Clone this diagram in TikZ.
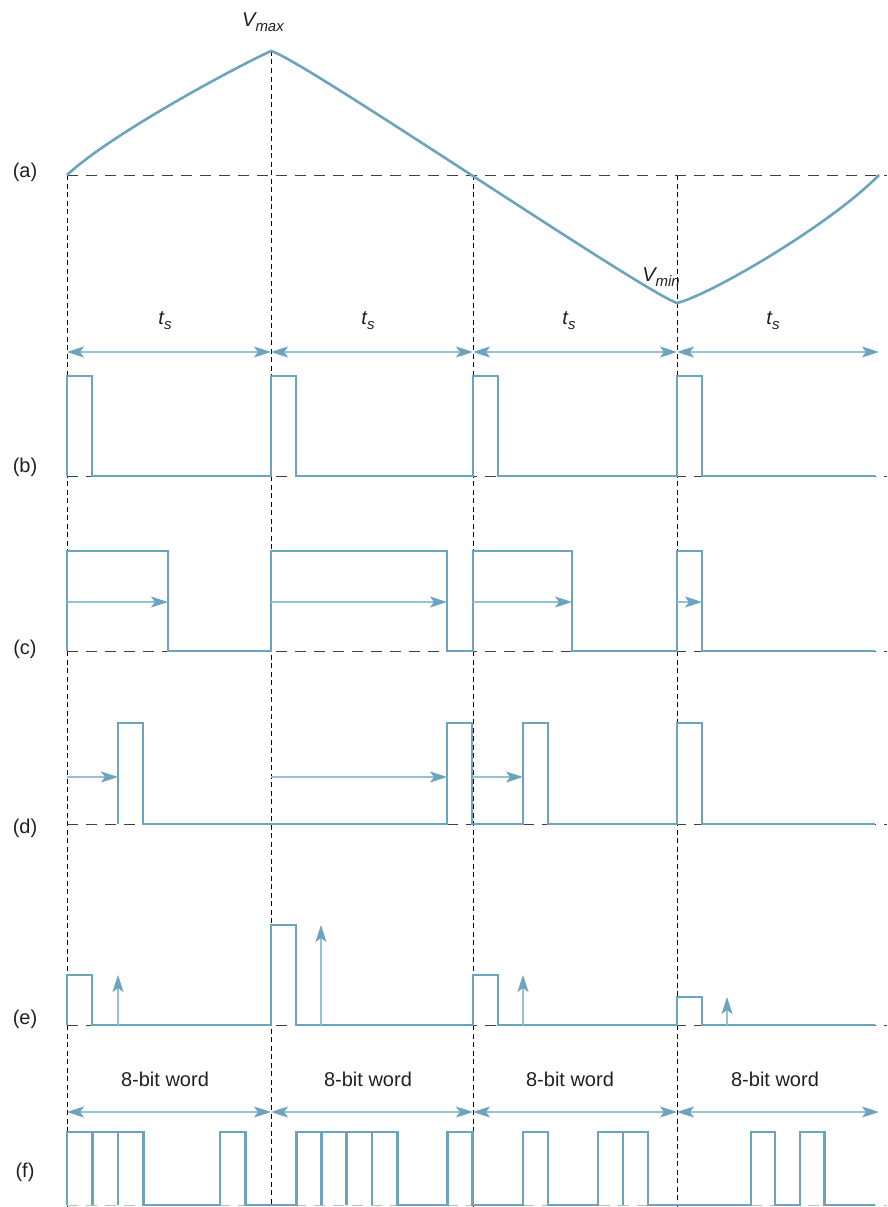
\documentclass[tikz,border=0pt]{standalone}
\usepackage{fontspec}
\setmainfont{Liberation Sans}
\usetikzlibrary{arrows.meta}
\definecolor{wavec}{RGB}{108,163,189}
\definecolor{dimc}{RGB}{150,192,212}
\definecolor{txt}{RGB}{35,31,32}
\begin{document}
\begin{tikzpicture}[x=1pt,y=-1pt,
  sig/.style={draw=wavec, line width=2.6pt, line join=miter},
  baseln/.style={draw=black!75, line width=1pt, dash pattern=on 11pt off 8pt},
  fbase/.style={draw=black!25, line width=1pt, dash pattern=on 11pt off 8pt},
  vdash/.style={draw=black, line width=1pt, dash pattern=on 5pt off 3.5pt},
  dimarrow/.style={draw=dimc, line width=1.4pt,
     {Stealth[length=17pt,width=11pt,inset=4pt,color=wavec]}-{Stealth[length=17pt,width=11pt,inset=4pt,color=wavec]}},
  inarrow/.style={draw=dimc, line width=1.2pt,
     -{Stealth[length=17pt,width=11pt,inset=4pt,color=wavec]}},
  lbl/.style={font=\fontsize{20}{24}\selectfont, text=txt, inner sep=0pt},
]
\useasboundingbox (0,0) rectangle (887,1207);

% period boundaries
\coordinate (P0) at (67,175);
\coordinate (P1) at (271,51);
\coordinate (P2) at (473,175);
\coordinate (P3) at (677,175);
\coordinate (P4) at (879,175);

% vertical dashed guides
\coordinate (B0) at (67,1207);
\coordinate (B1) at (271,1207);
\coordinate (B2) at (473,1207);
\coordinate (B3) at (677,1207);
\draw[vdash] (P0) -- (B0);
\draw[vdash] (P1) -- (B1);
\draw[vdash] (P2) -- (B2);
\draw[vdash] (P3) -- (B3);

% horizontal baselines
\draw[baseln] (67,175) -- (887,175);
\draw[baseln] (67,476) -- (887,476);
\draw[baseln] (67,651) -- (887,651);
\draw[baseln] (67,824) -- (887,824);
\draw[baseln] (67,1025) -- (887,1025);
\draw[fbase] (67,1205) -- (887,1205);

% (a) analogue signal
\draw[sig, line join=round] (P0) .. controls (110,135) and (230,70) .. (P1)
   .. controls (300,58) and (640,290) .. (677,303)
   .. controls (710,295) and (830,225) .. (P4);

% t_s arrows
\coordinate (s0) at (67,352);
\coordinate (s1) at (271,352);
\coordinate (s2) at (473,352);
\coordinate (s3) at (677,352);
\coordinate (s4) at (879,352);
\draw[dimarrow] (s0) -- (s1);
\draw[dimarrow] (s1) -- (s2);
\draw[dimarrow] (s2) -- (s3);
\draw[dimarrow] (s3) -- (s4);

% (b) sampling pulses
\draw[sig] (67,476) -- (67,376) -- (92,376) -- (92,476) -- (271,476)
  -- (271,376) -- (296,376) -- (296,476) -- (473,476)
  -- (473,376) -- (498,376) -- (498,476) -- (677,476)
  -- (677,376) -- (702,376) -- (702,476) -- (875,476);

% (c) PWM
\draw[sig] (67,651) -- (67,551) -- (168,551) -- (168,651) -- (271,651)
  -- (271,551) -- (447,551) -- (447,651) -- (473,651)
  -- (473,551) -- (572,551) -- (572,651) -- (677,651)
  -- (677,551) -- (702,551) -- (702,651) -- (875,651);
\coordinate (c0a) at (67,602);  \coordinate (c0b) at (168,602);
\coordinate (c1a) at (271,602); \coordinate (c1b) at (447,602);
\coordinate (c2a) at (473,602); \coordinate (c2b) at (572,602);
\coordinate (c3a) at (677,602); \coordinate (c3b) at (702,602);
\draw[inarrow] (c0a) -- (c0b);
\draw[inarrow] (c1a) -- (c1b);
\draw[inarrow] (c2a) -- (c2b);
\draw[inarrow] (c3a) -- (c3b);

% (d) PPM
\draw[sig] (118,824) -- (118,723) -- (143,723) -- (143,824) -- (447,824)
  -- (447,723) -- (472,723) -- (472,824) -- (523,824)
  -- (523,723) -- (548,723) -- (548,824) -- (677,824)
  -- (677,723) -- (702,723) -- (702,824) -- (875,824);
\coordinate (d0a) at (67,777);  \coordinate (d0b) at (118,777);
\coordinate (d1a) at (271,777); \coordinate (d1b) at (447,777);
\coordinate (d2a) at (473,777); \coordinate (d2b) at (523,777);
\draw[inarrow] (d0a) -- (d0b);
\draw[inarrow] (d1a) -- (d1b);
\draw[inarrow] (d2a) -- (d2b);

% (e) PAM
\draw[sig] (67,1025) -- (67,975) -- (92,975) -- (92,1025) -- (271,1025)
  -- (271,925) -- (296,925) -- (296,1025) -- (473,1025)
  -- (473,975) -- (498,975) -- (498,1025) -- (677,1025)
  -- (677,997) -- (702,997) -- (702,1025) -- (875,1025);
\coordinate (e0a) at (118,1025); \coordinate (e0b) at (118,975);
\coordinate (e1a) at (321,1025); \coordinate (e1b) at (321,925);
\coordinate (e2a) at (523,1025); \coordinate (e2b) at (523,975);
\coordinate (e3a) at (727,1025); \coordinate (e3b) at (727,997);
\draw[inarrow] (e0a) -- (e0b);
\draw[inarrow] (e1a) -- (e1b);
\draw[inarrow] (e2a) -- (e2b);
\draw[inarrow] (e3a) -- (e3b);

% 8-bit word arrows
\coordinate (w0) at (67,1112);
\coordinate (w1) at (271,1112);
\coordinate (w2) at (473,1112);
\coordinate (w3) at (677,1112);
\coordinate (w4) at (879,1112);
\draw[dimarrow] (w0) -- (w1);
\draw[dimarrow] (w1) -- (w2);
\draw[dimarrow] (w2) -- (w3);
\draw[dimarrow] (w3) -- (w4);

% (f) PCM: 11100010 01111001 00100110 00010100
\draw[sig] (67,1205)
  -- (67,1132) -- (92.5,1132) -- (92.5,1205)
  -- (92.5,1132) -- (118,1132) -- (118,1205)
  -- (118,1132) -- (143.5,1132) -- (143.5,1205)
  -- (220,1205) -- (220,1132) -- (245.5,1132) -- (245.5,1205)
  -- (296.25,1205) -- (296.25,1132) -- (321.5,1132) -- (321.5,1205)
  -- (321.5,1132) -- (346.75,1132) -- (346.75,1205)
  -- (346.75,1132) -- (372,1132) -- (372,1205)
  -- (372,1132) -- (397.25,1132) -- (397.25,1205)
  -- (447.5,1205) -- (447.5,1132) -- (472.5,1132) -- (472.5,1205)
  -- (523,1205) -- (523,1132) -- (548,1132) -- (548,1205)
  -- (598,1205) -- (598,1132) -- (623,1132) -- (623,1205)
  -- (623,1132) -- (648,1132) -- (648,1205)
  -- (751,1205) -- (751,1132) -- (775,1132) -- (775,1205)
  -- (800,1205) -- (800,1132) -- (824.5,1132) -- (824.5,1205)
  -- (875,1205);

% row labels
\node[lbl] (la) at (25,172) {(a)};
\node[lbl] (lb) at (25,467) {(b)};
\node[lbl] (lc) at (25,649) {(c)};
\node[lbl] (ld) at (25,828) {(d)};
\node[lbl] (le) at (25,1019) {(e)};
\node[lbl] (lf) at (25,1172) {(f)};

% V max / V min
\node[lbl] (vmax) at (263,22) {\itshape V\raisebox{-5pt}{\fontsize{15}{17}\selectfont max}};
\node[lbl] (vmin) at (661,277) {\itshape V\raisebox{-5pt}{\fontsize{15}{17}\selectfont min}};

% t_s labels
\node[lbl] (ts0) at (165,321) {\itshape t\raisebox{-5pt}{\fontsize{15}{17}\selectfont s}};
\node[lbl] (ts1) at (368,321) {\itshape t\raisebox{-5pt}{\fontsize{15}{17}\selectfont s}};
\node[lbl] (ts2) at (569,321) {\itshape t\raisebox{-5pt}{\fontsize{15}{17}\selectfont s}};
\node[lbl] (ts3) at (773,321) {\itshape t\raisebox{-5pt}{\fontsize{15}{17}\selectfont s}};

% word labels
\node[lbl] (wl0) at (165,1079) {8-bit word};
\node[lbl] (wl1) at (368,1079) {8-bit word};
\node[lbl] (wl2) at (570,1079) {8-bit word};
\node[lbl] (wl3) at (775,1079) {8-bit word};
\end{tikzpicture}
\end{document}
